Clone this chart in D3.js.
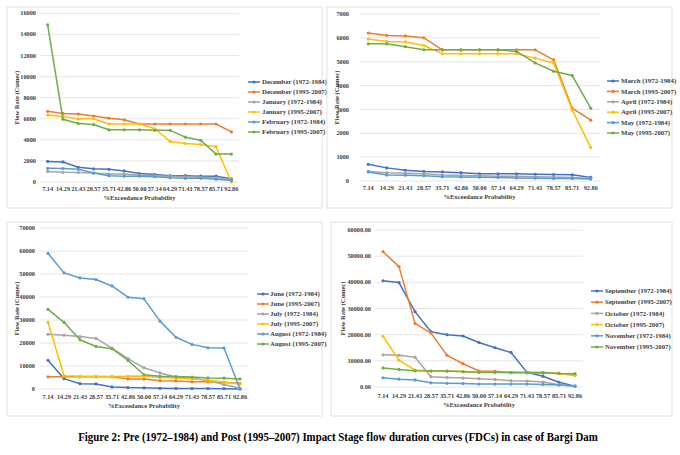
<!DOCTYPE html>
<html><head><meta charset="utf-8">
<script src="https://cdn.jsdelivr.net/npm/d3@7/dist/d3.min.js"></script>
<style>body{margin:0;background:#fff}svg{display:block}</style>
</head><body>
<svg id="c" width="680" height="455"></svg>
<script>
const categories = ["7.14","14.29","21.43","28.57","35.71","42.86","50.00","57.14","64.29","71.43","78.57","85.71","92.86"];
const colors = ["#4472C4","#ED7D31","#A5A5A5","#FFC000","#5B9BD5","#70AD47"];

// Panel 1: December - February
const p1Names = ["December (1972-1984)","December (1995-2007)","January (1972-1984)","January (1995-2007)","February (1972-1984)","February (1995-2007)"];
const p1Dec72 = [1950,1900,1400,1250,1200,1050,800,700,600,600,550,550,300];
const p1Dec95 = [6700,6500,6450,6250,6050,5900,5500,5500,5500,5500,5500,5500,4750];
const p1Jan72 = [1000,920,900,850,750,750,650,600,550,500,450,400,200];
const p1Jan95 = [6350,6200,6000,6000,5500,5500,5500,5050,3850,3650,3550,3350,0];
const p1Feb72 = [1300,1280,1200,850,600,550,550,500,400,350,350,250,150];
const p1Feb95 = [14900,5950,5550,5450,4950,4950,4950,4900,4900,4250,3950,2650,2650];
const p1Ticks = ["0","2000","4000","6000","8000","10000","12000","14000","16000"];

// Panel 2: March - May
const p2Names = ["March (1972-1984)","March (1995-2007)","April (1972-1984)","April (1995-2007)","May (1972-1984)","May (1995-2007)"];
const p2Mar72 = [700,550,450,400,380,350,300,300,300,280,270,260,150];
const p2Mar95 = [6200,6100,6080,6000,5500,5500,5500,5500,5500,5500,5080,3050,2550];
const p2Apr72 = [400,350,330,300,250,230,220,200,200,180,170,150,100];
const p2Apr95 = [5950,5850,5830,5680,5330,5330,5330,5330,5330,5150,4950,2980,1400];
const p2May72 = [380,250,240,220,180,170,160,150,130,120,110,100,80];
const p2May95 = [5750,5750,5630,5500,5500,5500,5500,5500,5430,4950,4600,4420,3050];
const p2Ticks = ["0","1000","2000","3000","4000","5000","6000","7000"];

// Panel 3: June - August
const p3Names = ["June (1972-1984)","June (1995-2007)","July (1972-1984)","July (1995-2007)","August (1972-1984)","August (1995-2007)"];
const p3Jun72 = [12500,4500,2300,2200,900,600,500,300,250,200,200,150,0];
const p3Jun95 = [5300,5300,5300,5300,5300,4400,4300,3600,3500,3100,3100,2800,2500];
const p3Jul72 = [23800,23400,22800,22000,17800,13200,9200,7000,5200,4800,3700,2000,300];
const p3Jul95 = [29000,5800,5500,5500,5400,5500,5600,5000,4800,4300,3800,3000,2200];
const p3Aug72 = [59000,50500,48300,47600,44800,39900,39200,29500,22500,19400,17900,17800,0];
const p3Aug95 = [34600,29000,21400,18500,17500,12400,6200,5500,5400,5200,4800,4700,4400];
const p3Ticks = ["0","10000","20000","30000","40000","50000","60000","70000"];

// Panel 4: September - November
const p4Names = ["September (1972-1984)","September (1995-2007)","October (1972-1984)","October (1995-2007)","November (1972-1984)","November (1995-2007)"];
const p4Sep72 = [40600,39900,28800,21100,20000,19500,17000,15000,13200,5600,4100,1800,250];
const p4Sep95 = [51700,46000,24300,20600,12100,8900,6100,6000,5500,5500,5300,5200,4500];
const p4Oct72 = [12300,12100,11400,3900,3600,3400,3200,2900,2400,2300,1900,900,250];
const p4Oct95 = [19400,10200,6500,6100,6100,6000,5500,5500,5500,5500,5500,5200,4400];
const p4Nov72 = [3500,3000,2700,1600,1400,1300,1100,1100,1100,1100,1000,800,400];
const p4Nov95 = [7300,6700,6200,6100,6100,5800,5600,5600,5500,5500,5500,5200,5100];
const p4Ticks = ["0.00","10000.00","20000.00","30000.00","40000.00","50000.00","60000.00"];

const caption = "Figure 2: Pre (1972\u20131984) and Post (1995\u20132007) Impact Stage flow duration curves (FDCs) in case of Bargi Dam";

const svg = d3.select("#c");
const FONT = "Liberation Serif, Times New Roman, serif";

function panel(cfg) {
  const g = svg.append("g");
  g.append("rect").attr("x", cfg.box[0]).attr("y", cfg.box[1])
    .attr("width", cfg.box[2]-cfg.box[0]).attr("height", cfg.box[3]-cfg.box[1])
    .attr("fill", "#fff").attr("stroke", "#d9d9d9").attr("stroke-width", 0.8);
  const x = d3.scalePoint().domain(categories).range([cfg.px0, cfg.px1]).padding(0.5);
  const tickVals = cfg.ticks.map(Number);
  const y = d3.scaleLinear().domain([0, d3.max(tickVals)]).range([cfg.py0, cfg.py1]);
  g.append("g").selectAll("line").data(tickVals).join("line")
    .attr("x1", cfg.px0).attr("x2", cfg.px1)
    .attr("y1", d => y(d)).attr("y2", d => y(d))
    .attr("stroke", "#e0e0e0").attr("stroke-width", 0.8);
  g.append("g").selectAll("text").data(cfg.ticks).join("text")
    .attr("x", cfg.ylab).attr("y", d => y(+d)).attr("dy", "0.33em")
    .attr("text-anchor", "end").attr("font-family", FONT).attr("font-size", 6.3)
    .attr("font-weight", "bold").attr("fill", "#404040").text(d => d);
  g.append("g").selectAll("text").data(categories).join("text")
    .attr("x", d => x(d)).attr("y", cfg.xlab).attr("dy", "0.33em")
    .attr("text-anchor", "middle").attr("font-family", FONT).attr("font-size", 6.3)
    .attr("font-weight", "bold").attr("fill", "#404040").text(d => d);
  g.append("text").attr("x", (cfg.px0+cfg.px1)/2).attr("y", cfg.xtitle).attr("dy", "0.33em")
    .attr("text-anchor", "middle").attr("font-family", FONT).attr("font-size", 6.5)
    .attr("font-weight", "bold").attr("fill", "#404040").text("%Exceedance Probability");
  const ycen = (cfg.py0+cfg.py1)/2;
  g.append("text").attr("transform", `translate(${cfg.ytitle},${ycen}) rotate(-90)`)
    .attr("dy", "0.33em").attr("text-anchor", "middle").attr("font-family", FONT).attr("font-size", 6.5)
    .attr("font-weight", "bold").attr("fill", "#404040").text("Flow Rate (Cumec)");
  const line = d3.line().x((d,i) => x(categories[i])).y(d => y(d));
  cfg.series.forEach((s, k) => {
    g.append("path").datum(s).attr("d", line).attr("fill", "none")
      .attr("stroke", colors[k]).attr("stroke-width", 1.5).attr("stroke-linejoin", "round");
    g.append("g").selectAll("circle").data(s).join("circle")
      .attr("cx", (d,i) => x(categories[i])).attr("cy", d => y(d)).attr("r", 1.6)
      .attr("fill", colors[k]);
  });
  const lg = g.append("g");
  cfg.names.forEach((n, k) => {
    const yy = cfg.leg[2] + k*cfg.leg[3];
    lg.append("line").attr("x1", cfg.leg[0]).attr("x2", cfg.leg[0]+12).attr("y1", yy).attr("y2", yy)
      .attr("stroke", colors[k]).attr("stroke-width", 1.5);
    lg.append("circle").attr("cx", cfg.leg[0]+6).attr("cy", yy).attr("r", 1.6).attr("fill", colors[k]);
    lg.append("text").attr("x", cfg.leg[1]).attr("y", yy).attr("dy", "0.33em")
      .attr("font-family", FONT).attr("font-size", 6.8).attr("font-weight", "bold")
      .attr("fill", "#404040").text(n);
  });
}

panel({box:[7,7,322,208], px0:40, px1:239, py0:182, py1:13.3, ticks:p1Ticks, ylab:36, xlab:189, xtitle:198, ytitle:17,
  series:[p1Dec72,p1Dec95,p1Jan72,p1Jan95,p1Feb72,p1Feb95], names:p1Names, leg:[248,262,82,10]});
panel({box:[327,7,672,208], px0:359, px1:600, py0:181, py1:14, ticks:p2Ticks, ylab:349, xlab:188, xtitle:197, ytitle:337,
  series:[p2Mar72,p2Mar95,p2Apr72,p2Apr95,p2May72,p2May95], names:p2Names, leg:[607,621,81,10.4]});
panel({box:[7,222,322,416], px0:40, px1:248, py0:389, py1:228, ticks:p3Ticks, ylab:35, xlab:397, xtitle:406, ytitle:17,
  series:[p3Jun72,p3Jun95,p3Jul72,p3Jul95,p3Aug72,p3Aug95], names:p3Names, leg:[257,270,294,10]});
panel({box:[331,222,672,416], px0:375, px1:583, py0:387, py1:230, ticks:p4Ticks, ylab:371, xlab:396, xtitle:405, ytitle:343,
  series:[p4Sep72,p4Sep95,p4Oct72,p4Oct95,p4Nov72,p4Nov95], names:p4Names, leg:[591,605,291,11.2]});

// caption: natural-width text, horizontally compressed to fit like the reference
const cap = svg.append("g").attr("transform", "translate(338,437)");
const capText = cap.append("text").attr("x", 0).attr("y", 0).attr("dy", "0.33em").attr("text-anchor", "middle")
  .attr("font-family", FONT).attr("font-size", 13).attr("font-weight", "bold").attr("fill", "#000")
  .text(caption);
const w = capText.node().getComputedTextLength();
const sx = Math.min(1, 520 / w);
cap.attr("transform", `translate(338,437) scale(${sx},1)`);
</script>
</body></html>
